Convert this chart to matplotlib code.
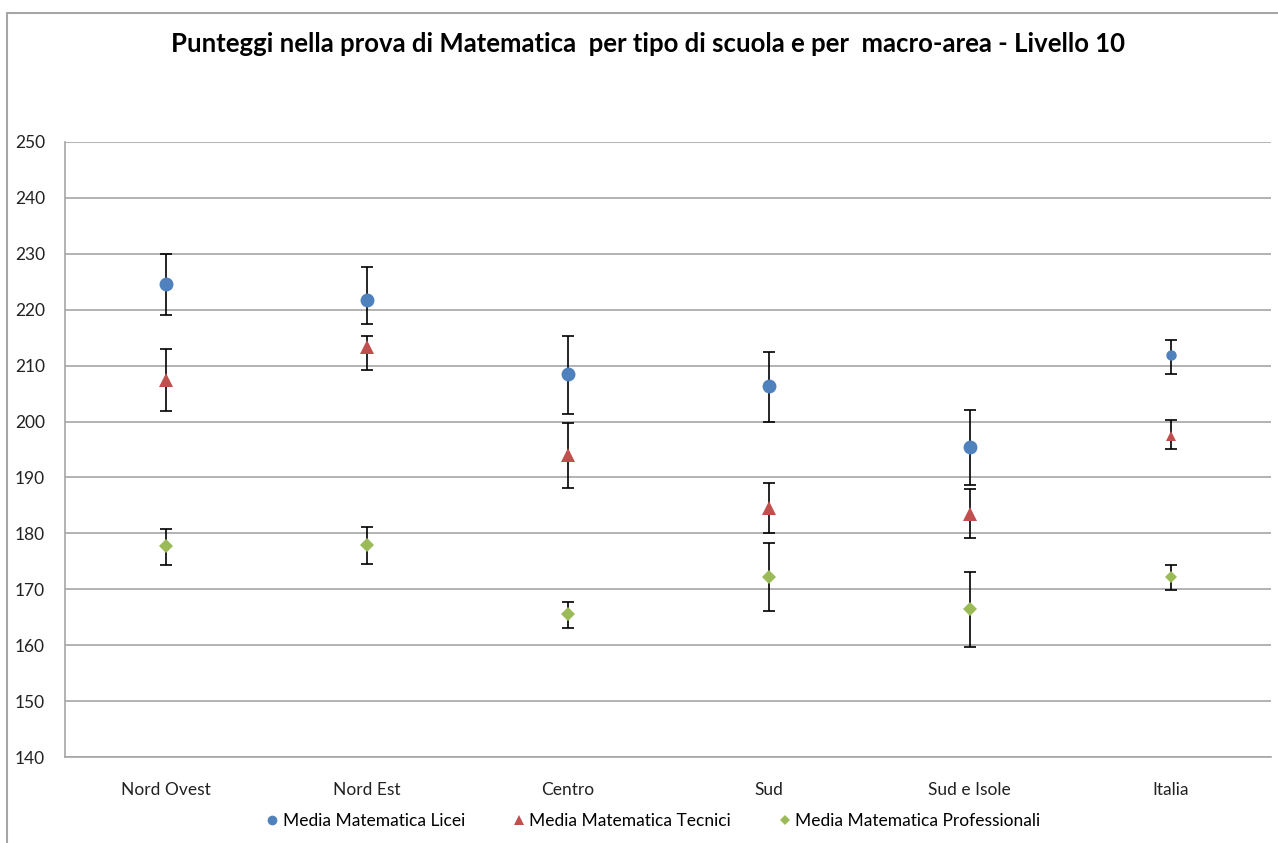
import matplotlib
matplotlib.use("Agg")
import matplotlib.pyplot as plt
from matplotlib.patches import Rectangle
import numpy as np

categories = ["Nord Ovest", "Nord Est", "Centro", "Sud", "Sud e Isole", "Italia"]

licei_mean = [224.6, 221.7, 208.5, 206.4, 195.4, 211.9]
licei_low = [219.1, 217.4, 201.3, 199.9, 188.6, 208.5]
licei_high = [230.0, 227.6, 215.3, 212.4, 202.1, 214.6]

tecnici_mean = [207.4, 213.3, 194.0, 184.5, 183.5, 197.4]
tecnici_low = [201.9, 209.2, 188.1, 180.1, 179.2, 195.1]
tecnici_high = [213.0, 215.3, 199.7, 189.0, 187.9, 200.3]

prof_mean = [177.7, 177.9, 165.6, 172.2, 166.5, 172.2]
prof_low = [174.3, 174.5, 163.1, 166.1, 159.7, 169.9]
prof_high = [180.8, 181.1, 167.7, 178.3, 173.1, 174.3]

series_names = ["Media Matematica Licei", "Media Matematica Tecnici", "Media Matematica Professionali"]
yticks = [140, 150, 160, 170, 180, 190, 200, 210, 220, 230, 240, 250]

plt.rcParams['font.family'] = ['Lato', 'DejaVu Sans']

fig = plt.figure(figsize=(12.78, 8.43), dpi=100)
ax = fig.add_axes([65/1278, 1-757/843, 1206/1278, 615/843])

x = np.arange(len(categories))
series = [
    (licei_mean, licei_low, licei_high, "o", "#4F81BD", [10, 10, 10, 10, 10, 7.5]),
    (tecnici_mean, tecnici_low, tecnici_high, "^", "#C0504D", [9.5, 9.5, 9.5, 9.5, 9.5, 7]),
    (prof_mean, prof_low, prof_high, "D", "#9BBB59", [7.5, 7.5, 7.5, 7.5, 7.5, 6]),
]
handles = []
for (m, lo, hi, mk, col, sizes), name in zip(series, series_names):
    m = np.array(m); lo = np.array(lo); hi = np.array(hi)
    ax.errorbar(x, m, yerr=[m - lo, hi - m], fmt="none", ecolor="black",
                elinewidth=1.2, capsize=4, capthick=1.2, zorder=2)
    for i in range(len(x)):
        ax.plot(x[i], m[i], marker=mk, color=col, markersize=sizes[i],
                linestyle="none", zorder=3, markeredgewidth=0)
    h, = ax.plot([], [], marker=mk, color=col, markersize=7 if mk != "D" else 5,
                 linestyle="none", markeredgewidth=0)
    handles.append(h)

ax.set_xlim(-0.5, len(categories) - 0.5)
ax.set_ylim(140, 250)
ax.set_yticks(yticks)
ax.set_xticks(x)
ax.set_xticklabels(categories)
ax.yaxis.grid(True, color="#A6A6A6", linewidth=1.2)
ax.set_axisbelow(True)
for s in ["top", "right"]:
    ax.spines[s].set_visible(False)
ax.spines["left"].set_color("#A6A6A6")
ax.spines["bottom"].set_color("#A6A6A6")
ax.spines["left"].set_linewidth(1.2)
ax.spines["bottom"].set_linewidth(1.2)
ax.tick_params(axis="both", length=0, labelsize=12.5, colors="#222222")
ax.tick_params(axis="y", pad=36)
ax.tick_params(axis="x", pad=18)
for lbl in ax.get_yticklabels():
    lbl.set_horizontalalignment("left")

fig.text(0.507, 1 - 44/843, "Punteggi nella prova di Matematica  per tipo di scuola e per  macro-area - Livello 10",
         ha="center", va="center", fontsize=18.5, fontweight="bold")

fig.legend(handles, series_names, loc="center", bbox_to_anchor=(0.51, 1 - 821/843),
           ncol=3, frameon=False, fontsize=12.5, handletextpad=0.1, columnspacing=2.6,
           handlelength=1.0)

fig.patches.append(Rectangle((7/1278, -0.1), 1.2, 1 - 13/843 + 0.1, transform=fig.transFigure,
                             fill=False, edgecolor="#A6A6A6", linewidth=1.5))

fig.savefig("out.png", dpi=100)
